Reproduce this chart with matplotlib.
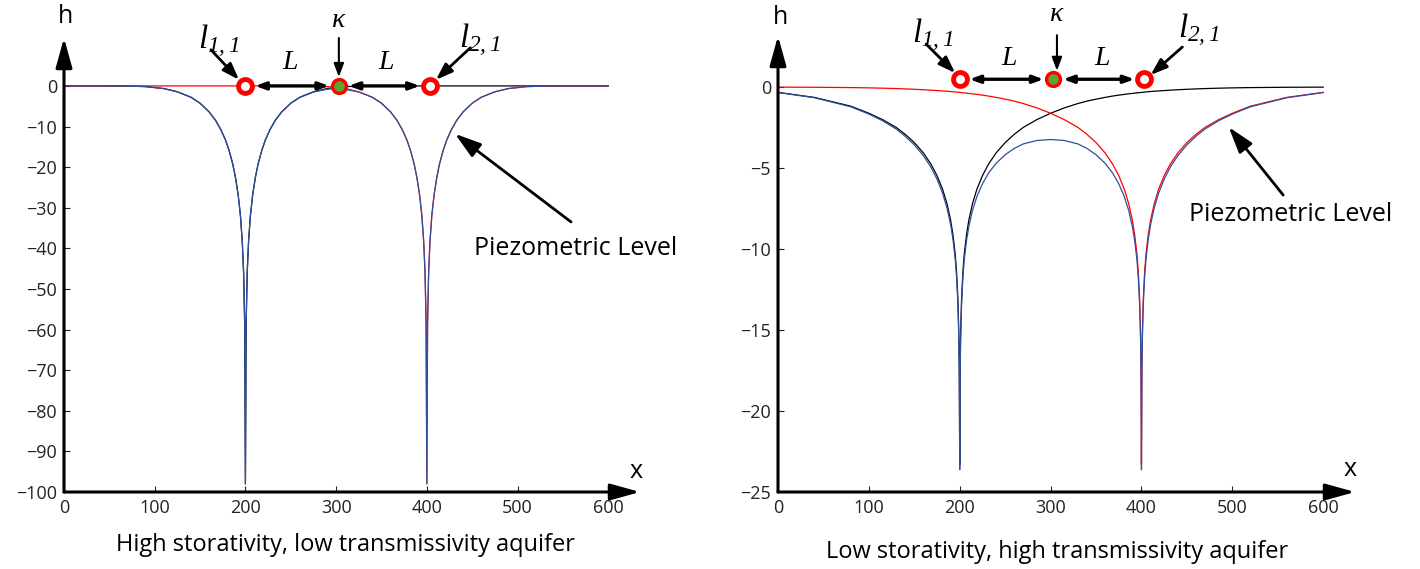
import matplotlib
matplotlib.use('Agg')
from matplotlib import pyplot as plt

# Head h along the line through both wells (well 1 at x=200, well 2 at x=400)
# High storativity, low transmissivity aquifer
X_LEFT = [0, 40, 70, 90, 110, 125, 140, 150, 160, 167, 173, 178, 182, 186, 189, 192, 194.5, 196.5, 198, 199.2, 200,
          200.8, 202, 203.5, 205.5, 208, 211, 214, 218, 222, 227, 233, 240, 250, 260, 275, 290, 300,
          310, 325, 340, 350, 360, 367, 373, 378, 382, 386, 389, 392, 394.5, 396.5, 398, 399.2, 400,
          400.8, 402, 403.5, 405.5, 408, 411, 414, 418, 422, 427, 433, 440, 450, 460, 475, 490, 510, 530, 560, 600]
H_WELL1_LEFT = [0, 0, -0.04, -0.17, -0.65, -1.45, -2.79, -4.26, -6.4, -8.45, -10.8, -13.3, -15.9, -19.2, -22.5,
                -26.8, -31.9, -38.2, -45.8, -58.5, -98.0,
                -58.5, -45.8, -38.2, -31.9, -26.8, -22.5, -19.2, -15.9, -13.3, -10.8, -8.45, -6.4, -4.26, -2.79,
                -1.45, -0.65, -0.33,
                -0.17, -0.06, -0.02, -0.01, 0, 0, 0, 0, 0, 0, 0, 0, 0, 0, 0, 0, 0,
                0, 0, 0, 0, 0, 0, 0, 0, 0, 0, 0, 0, 0, 0, 0, 0, 0, 0, 0, 0]
H_WELL2_LEFT = [0, 0, 0, 0, 0, 0, 0, 0, 0, 0, 0, 0, 0, 0, 0, 0, 0, 0, 0, 0, 0,
                0, 0, 0, 0, 0, 0, 0, 0, 0, 0, 0, 0, -0.01, -0.02, -0.06, -0.17, -0.33,
                -0.65, -1.45, -2.79, -4.26, -6.4, -8.45, -10.8, -13.3, -15.9, -19.2, -22.5, -26.8, -31.9, -38.2,
                -45.8, -58.5, -98.0,
                -58.5, -45.8, -38.2, -31.9, -26.8, -22.5, -19.2, -15.9, -13.3, -10.8, -8.45, -6.4, -4.26, -2.79,
                -1.45, -0.65, -0.17, -0.04, 0, 0]
H_TOTAL_LEFT = [0, 0, -0.04, -0.17, -0.65, -1.45, -2.79, -4.26, -6.4, -8.45, -10.8, -13.3, -15.9, -19.2, -22.5,
                -26.8, -31.9, -38.2, -45.8, -58.5, -98.0,
                -58.5, -45.8, -38.2, -31.9, -26.8, -22.5, -19.2, -15.9, -13.3, -10.8, -8.45, -6.4, -4.27, -2.81,
                -1.51, -0.82, -0.66,
                -0.82, -1.51, -2.81, -4.27, -6.4, -8.45, -10.8, -13.3, -15.9, -19.2, -22.5, -26.8, -31.9, -38.2,
                -45.8, -58.5, -98.0,
                -58.5, -45.8, -38.2, -31.9, -26.8, -22.5, -19.2, -15.9, -13.3, -10.8, -8.45, -6.4, -4.26, -2.79,
                -1.45, -0.65, -0.17, -0.04, 0, 0]

# Low storativity, high transmissivity aquifer
X_RIGHT = [0, 40, 80, 100, 115, 130, 140, 150, 160, 168, 175, 181, 186, 190, 192.5, 195, 196.5, 198, 199, 199.5, 200,
           200.5, 201, 202, 203.5, 205, 207.5, 210, 214, 219, 225, 232, 240, 250, 260, 270, 285, 300,
           315, 330, 340, 350, 360, 368, 375, 381, 386, 390, 392.5, 395, 396.5, 398, 399, 399.5, 400,
           400.5, 401, 402, 403.5, 405, 407.5, 410, 414, 419, 425, 432, 440, 450, 460, 470, 485, 500, 520, 560, 600]
H_WELL1_RIGHT = [-0.33, -0.64, -1.18, -1.62, -2.01, -2.49, -2.92, -3.43, -4.07, -4.73, -5.47, -6.29, -7.21, -8.23,
                 -9.1, -10.3, -11.4, -13.1, -15.2, -17.3, -23.3,
                 -17.3, -15.2, -13.1, -11.4, -10.3, -9.1, -8.23, -7.21, -6.29, -5.47, -4.73, -4.07, -3.43, -2.92,
                 -2.49, -2.01, -1.62,
                 -1.29, -1.02, -0.87, -0.75, -0.64, -0.56, -0.50, -0.456, -0.42, -0.394, -0.378, -0.363, -0.354,
                 -0.345, -0.339, -0.336, -0.333,
                 -0.331, -0.328, -0.322, -0.313, -0.305, -0.291, -0.278, -0.258, -0.241, -0.218, -0.193, -0.166,
                 -0.140, -0.116, -0.095, -0.071, -0.052, -0.035, -0.015, -0.006]
H_WELL2_RIGHT = [-0.006, -0.015, -0.035, -0.052, -0.071, -0.095, -0.116, -0.140, -0.166, -0.193, -0.218, -0.241,
                 -0.258, -0.278, -0.291, -0.305, -0.313, -0.322, -0.328, -0.331, -0.333,
                 -0.336, -0.339, -0.345, -0.354, -0.363, -0.378, -0.394, -0.42, -0.456, -0.50, -0.56, -0.64, -0.75,
                 -0.87, -1.02, -1.29, -1.62,
                 -2.01, -2.49, -2.92, -3.43, -4.07, -4.73, -5.47, -6.29, -7.21, -8.23, -9.1, -10.3, -11.4, -13.1,
                 -15.2, -17.3, -23.3,
                 -17.3, -15.2, -13.1, -11.4, -10.3, -9.1, -8.23, -7.21, -6.29, -5.47, -4.73, -4.07, -3.43, -2.92,
                 -2.49, -2.01, -1.62, -1.18, -0.64, -0.33]
H_TOTAL_RIGHT = [-0.34, -0.66, -1.22, -1.67, -2.08, -2.59, -3.04, -3.57, -4.24, -4.92, -5.69, -6.53, -7.47, -8.51,
                 -9.39, -10.61, -11.71, -13.42, -15.53, -17.63, -23.63,
                 -17.64, -15.54, -13.45, -11.75, -10.66, -9.48, -8.62, -7.63, -6.75, -5.97, -5.29, -4.71, -4.18,
                 -3.79, -3.51, -3.30, -3.24,
                 -3.30, -3.51, -3.79, -4.18, -4.71, -5.29, -5.97, -6.75, -7.63, -8.62, -9.48, -10.66, -11.75,
                 -13.45, -15.54, -17.64, -23.63,
                 -17.63, -15.53, -13.42, -11.71, -10.61, -9.39, -8.51, -7.47, -6.53, -5.69, -4.92, -4.24, -3.57,
                 -3.04, -2.59, -2.08, -1.67, -1.22, -0.66, -0.34]

X_TICKS = [0, 100, 200, 300, 400, 500, 600]
Y_TICKS_LEFT = [-100, -90, -80, -70, -60, -50, -40, -30, -20, -10, 0]
Y_TICKS_RIGHT = [-25, -20, -15, -10, -5, 0]

# wells l_{1,1}, l_{2,1} and the observation point kappa between them
WELL_X = [200, 403]
KAPPA_X = [303]

BLUE = '#2f4f9f'
GREEN = '#5ea434'


def arrow(ax, start, end, lw=2.0, head_length=1.0, head_width=0.35):
    ax.annotate('', xy=end, xytext=start, annotation_clip=False,
                arrowprops=dict(arrowstyle=f'-|>,head_length={head_length},head_width={head_width}',
                                color='black', lw=lw, shrinkA=0, shrinkB=0))


def draw_panel(ax, x, h1, h2, htot, yticks, ylim, mark_y, pos, title, title_xy):
    ax.plot(x, h1, color='black', lw=0.9)
    ax.plot(x, h2, color='red', lw=0.9)
    ax.plot(x, htot, color=BLUE, lw=0.9)

    ax.set_xlim(0, 635)
    ax.set_ylim(*ylim)
    ax.set_xticks(X_TICKS)
    ax.set_yticks(yticks)
    for s in ax.spines.values():
        s.set_visible(False)
    ax.tick_params(direction='in', length=4, width=0.8, labelsize=13, top=False, right=False,
                   colors='#222222', pad=5)

    # axes drawn as arrows
    style = '-|>,head_length=1.8,head_width=0.5'
    ax.annotate('', xy=(1, 0), xytext=(0, 0), xycoords='axes fraction',
                arrowprops=dict(arrowstyle=style, color='black', lw=2.2, shrinkA=0, shrinkB=0))
    ax.annotate('', xy=(0, 1), xytext=(0, 0), xycoords='axes fraction',
                arrowprops=dict(arrowstyle=style, color='black', lw=2.2, shrinkA=0, shrinkB=0))
    ax.text(*pos['h'], 'h', fontsize=18, ha='center', va='center')
    ax.text(*pos['x'], 'x', fontsize=18, ha='center', va='center')

    # distances L between the wells and kappa
    for x0, x1 in [(WELL_X[0], KAPPA_X[0]), (KAPPA_X[0], WELL_X[1])]:
        ax.annotate('', xy=(x1, mark_y), xytext=(x0, mark_y), annotation_clip=False,
                    arrowprops=dict(arrowstyle='<|-|>,head_length=0.6,head_width=0.22',
                                    color='black', lw=2.4, shrinkA=7, shrinkB=7))
    ax.plot(WELL_X, [mark_y] * len(WELL_X), 'o', ms=10, mfc='white', mec='red', mew=3.5,
            clip_on=False, zorder=5)
    ax.plot(KAPPA_X, [mark_y] * len(KAPPA_X), 'o', ms=10, mfc=GREEN, mec='red', mew=2.4,
            clip_on=False, zorder=5)

    ax.text(*pos['l11'], r'$l_{1,1}$', fontsize=24, ha='center', va='center')
    ax.text(*pos['l21'], r'$l_{2,1}$', fontsize=24, ha='center', va='center')
    ax.text(*pos['kappa'], 'κ', fontsize=20, family='Liberation Serif', style='italic',
            ha='center', va='center')
    ax.text(*pos['L1'], r'$L$', fontsize=20, ha='center', va='center')
    ax.text(*pos['L2'], r'$L$', fontsize=20, ha='center', va='center')
    arrow(ax, *pos['l11_arrow'])
    arrow(ax, *pos['l21_arrow'])
    arrow(ax, *pos['kappa_arrow'], lw=1.5, head_length=0.8, head_width=0.3)

    ax.text(*pos['piezo'], 'Piezometric Level', fontsize=18, ha='left', va='center')
    arrow(ax, *pos['piezo_arrow'], lw=2.0, head_length=1.6, head_width=0.5)

    ax.figure.text(*title_xy, title, fontsize=17, ha='center', va='center')


def main():
    plt.rcParams['font.family'] = ['Open Sans', 'DejaVu Sans']
    # italic serif for the well labels, subscripts included
    plt.rcParams['mathtext.fontset'] = 'custom'
    plt.rcParams['mathtext.it'] = 'Liberation Serif:italic'
    plt.rcParams['mathtext.rm'] = 'Liberation Serif:italic'

    W, H = 1420, 569
    fig = plt.figure(figsize=(W / 100, H / 100), dpi=100)

    ax1 = fig.add_axes([64 / W, 77 / H, 576 / W, 454 / H])
    left_pos = {
        'h': (2, 17), 'x': (631, -95),
        'l11': (170, 11.0), 'l21': (458, 11.3), 'kappa': (303, 16),
        'L1': (249, 6.0), 'L2': (355, 6.0),
        'l11_arrow': ((162, 8.9), (193, 1.5)),
        'l21_arrow': ((448, 9.4), (410, 1.5)),
        'kappa_arrow': ((303, 11.8), (303, 2.2)),
        'piezo': (452, -40),
        'piezo_arrow': ((559, -33.5), (431, -11.8)),
    }
    draw_panel(ax1, X_LEFT, H_WELL1_LEFT, H_WELL2_LEFT, H_TOTAL_LEFT, Y_TICKS_LEFT, (-100, 11.8), 0,
               left_pos, 'High storativity, low transmissivity aquifer', (345 / W, 1 - 545 / H))

    ax2 = fig.add_axes([778 / W, 77 / H, 577 / W, 456 / H])
    right_pos = {
        'h': (3, 4.3), 'x': (630, -23.6),
        'l11': (170, 3.2), 'l21': (463, 3.5), 'kappa': (307, 4.45),
        'L1': (254, 1.8), 'L2': (357, 1.8),
        'l11_arrow': ((163, 2.65), (195, 0.86)),
        'l21_arrow': ((445, 2.47), (410, 0.74)),
        'kappa_arrow': ((307, 3.2), (307, 1.0)),
        'piezo': (452, -7.9),
        'piezo_arrow': ((556, -6.67), (496, -2.47)),
    }
    draw_panel(ax2, X_RIGHT, H_WELL1_RIGHT, H_WELL2_RIGHT, H_TOTAL_RIGHT, Y_TICKS_RIGHT, (-25, 3.15), 0.48,
               right_pos, 'Low storativity, high transmissivity aquifer', (1057 / W, 1 - 552 / H))

    fig.savefig('out.png', dpi=100)


if __name__ == '__main__':
    main()
